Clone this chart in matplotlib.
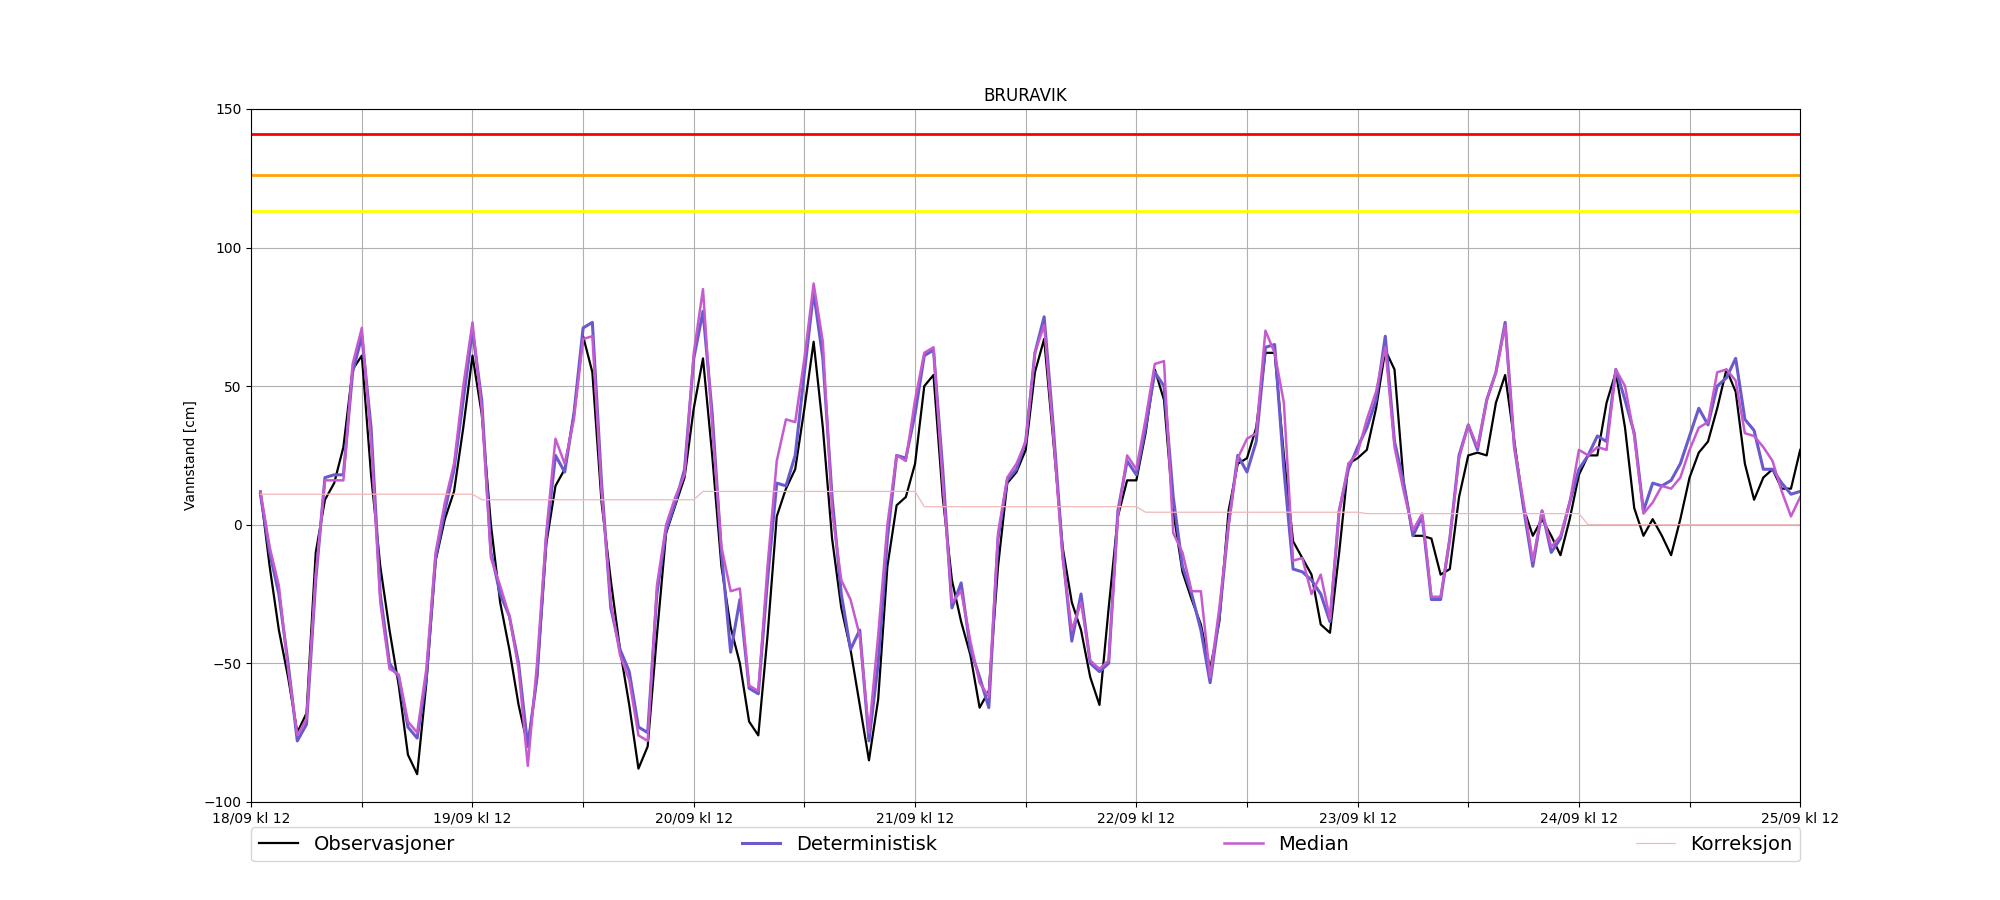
import numpy as np
import matplotlib.pyplot as plt

# hourly values from 18/09 kl 13 (hour 1) to 25/09 kl 12 (hour 168)
obs = [12, -15, -38, -55, -75, -68, -10, 9, 15, 28, 56, 61, 18, -15, -38, -58, -83, -90, -57, -13,
       2, 12, 35, 61, 40, 0, -28, -45, -65, -80, -55, -7, 14, 20, 40, 68, 55, 8, -20, -45,
       -65, -88, -80, -40, -3, 7, 17, 42, 60, 25, -15, -37, -50, -71, -76, -40, 3, 13, 20, 42,
       66, 35, -5, -30, -45, -65, -85, -63, -15, 7, 10, 22, 50, 54, 10, -20, -35, -47, -66, -60,
       -15, 15, 19, 27, 55, 67, 30, -8, -28, -38, -55, -65, -30, 3, 16, 16, 33, 56, 45, 5,
       -17, -27, -36, -52, -35, 5, 22, 24, 35, 62, 62, 25, -6, -12, -18, -36, -39, -10, 22, 24,
       27, 42, 63, 56, 15, -4, -4, -5, -18, -16, 10, 25, 26, 25, 44, 54, 30, 6, -4, 2,
       -4, -11, 2, 18, 25, 25, 44, 55, 35, 6, -4, 2, -4, -11, 2, 17, 26, 30, 42, 56,
       48, 22, 9, 17, 20, 13, 13, 27]
det = [11, -10, -25, -50, -78, -72, -20, 17, 18, 18, 55, 68, 35, -25, -50, -55, -73, -77, -55, -12,
       5, 20, 45, 70, 45, -10, -25, -33, -50, -80, -55, -5, 25, 19, 40, 71, 73, 15, -30, -45,
       -53, -73, -75, -25, -2, 8, 20, 60, 77, 40, -10, -46, -27, -59, -61, -20, 15, 14, 25, 55,
       84, 60, 10, -25, -45, -38, -78, -50, -5, 25, 24, 40, 61, 63, 20, -30, -21, -45, -55, -66,
       -5, 16, 20, 30, 62, 75, 35, -10, -42, -25, -50, -53, -50, 5, 23, 18, 35, 55, 50, 10,
       -15, -25, -38, -57, -33, 0, 25, 19, 30, 64, 65, 20, -16, -17, -20, -25, -35, 5, 20, 28,
       35, 45, 68, 30, 15, -4, 3, -27, -27, -5, 25, 36, 27, 45, 55, 73, 28, 6, -15, 5,
       -10, -5, 8, 20, 25, 32, 30, 56, 45, 33, 5, 15, 14, 16, 22, 32, 42, 36, 50, 53,
       60, 38, 34, 20, 20, 15, 11, 12]
median = [12, -8, -22, -52, -76, -70, -18, 16, 16, 16, 58, 71, 30, -28, -52, -54, -71, -75, -52, -10,
          8, 22, 50, 73, 42, -12, -22, -33, -52, -87, -50, -3, 31, 22, 38, 67, 68, 12, -28, -47,
          -56, -76, -78, -22, 0, 10, 18, 62, 85, 35, -8, -24, -23, -58, -60, -15, 23, 38, 37, 60,
          87, 66, 5, -20, -27, -40, -75, -40, 0, 25, 23, 45, 62, 64, 15, -28, -24, -42, -57, -62,
          -3, 17, 22, 30, 62, 72, 32, -12, -38, -28, -49, -52, -49, 3, 25, 20, 38, 58, 59, -3,
          -10, -24, -24, -55, -30, 0, 24, 31, 33, 70, 62, 44, -13, -12, -25, -18, -34, 5, 22, 26,
          38, 48, 64, 28, 12, -2, 4, -26, -26, -5, 24, 36, 28, 45, 55, 72, 28, 8, -13, 5,
          -8, -4, 8, 27, 25, 28, 27, 56, 50, 32, 4, 8, 14, 13, 17, 27, 35, 37, 55, 56,
          52, 33, 32, 28, 23, 12, 3, 10]
korr = [11] * 24 + [9] * 24 + [12] * 24 + [6.5] * 24 + [4.5] * 24 + [4] * 24 + [0] * 24

hours = np.arange(1, 169)
hours_k = np.arange(0, 168) + 1

thresholds = [141, 126, 113]
threshold_colors = ['red', 'orange', 'yellow']

days = ['18/09 kl 12', '19/09 kl 12', '20/09 kl 12', '21/09 kl 12',
        '22/09 kl 12', '23/09 kl 12', '24/09 kl 12', '25/09 kl 12']

fig = plt.figure(figsize=(20, 9), dpi=100)
ax = fig.add_axes([0.1256, 0.109, 0.7745, 0.770])

for t, c in zip(thresholds, threshold_colors):
    ax.axhline(t, color=c, linewidth=2)

ax.plot(hours, obs, color='black', linewidth=1.6, label='Observasjoner')
ax.plot(hours, det, color='#6a5acd', linewidth=2.2, label='Deterministisk')
ax.plot(hours, median, color='#c65bcf', linewidth=1.8, label='Median')
ax.plot(hours_k, korr, color='#f0b8b8', linewidth=0.9, label='Korreksjon')

ax.set_xlim(0, 168)
ax.set_ylim(-100, 150)
ticks = np.arange(0, 169, 12)
ax.set_xticks(ticks)
labels = []
for i in range(len(ticks)):
    labels.append(days[i // 2] if i % 2 == 0 else '')
ax.set_xticklabels(labels)
ax.grid(True)
ax.set_title('BRURAVIK')
ax.set_ylabel('Vannstand [cm]')

ax.legend(loc='upper left', bbox_to_anchor=(0, -0.036, 1, 0), ncol=4,
          mode='expand', fontsize=14, borderaxespad=0)

fig.savefig('out.png')
